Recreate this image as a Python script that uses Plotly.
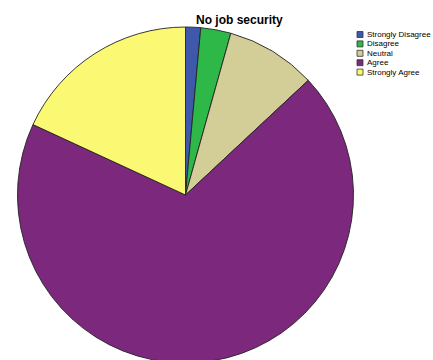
import plotly.graph_objects as go

# Responses to "No job security"
categories = ["Strongly Disagree", "Disagree", "Neutral", "Agree", "Strongly Agree"]
counts = [2, 4, 12, 95, 25]
colors = ["#3E58AC", "#2EB848", "#D3CE97", "#7C287D", "#FBF873"]
title_text = "No job security"

W, H = 433, 366  # canvas is a little taller than the view so the pie bottom is clipped


def px_x(x):
    return x / W


def px_y(y):
    return (H - y) / H


# pie circle: centre (185.5, 195), radius 168 px
cx, cy, r = 185.5, 195, 168

fig = go.Figure(
    go.Pie(
        labels=categories,
        values=counts,
        marker=dict(colors=colors, line=dict(color="#222222", width=0.9)),
        sort=False,
        direction="clockwise",
        rotation=0,
        textinfo="none",
        hoverinfo="label+value+percent",
        showlegend=False,
        domain=dict(x=[px_x(cx - r), px_x(cx + r)], y=[px_y(cy + r), px_y(cy - r)]),
    )
)

annotations = [
    dict(
        text="<b>" + title_text + "</b>",
        x=px_x(240), y=px_y(20), xref="paper", yref="paper",
        xanchor="center", yanchor="middle", showarrow=False,
        font=dict(family="Liberation Sans, Arial, sans-serif", size=12, color="#000000"),
    )
]

# compact legend drawn as swatches and labels
shapes = []
row_top0, row_step, box = 31.5, 9.4, 6
for i, (name, col) in enumerate(zip(categories, colors)):
    top = row_top0 + i * row_step
    shapes.append(dict(
        type="rect", xref="paper", yref="paper",
        x0=px_x(357), x1=px_x(357 + box), y0=px_y(top + box), y1=px_y(top),
        fillcolor=col, line=dict(color="#333333", width=0.8),
    ))
    annotations.append(dict(
        text=name, x=px_x(365), y=px_y(top + box / 2), xref="paper", yref="paper",
        xanchor="left", yanchor="middle", showarrow=False,
        font=dict(family="Liberation Sans, Arial, sans-serif", size=8, color="#000000"),
    ))

fig.update_layout(
    width=W, height=H, autosize=False,
    margin=dict(l=0, r=0, t=0, b=0),
    paper_bgcolor="#FFFFFF", plot_bgcolor="#FFFFFF",
    annotations=annotations, shapes=shapes,
)

fig.write_html(
    "out.html",
    post_script="document.body.style.overflow='hidden';document.documentElement.style.overflow='hidden';document.body.style.margin='0';",
)
